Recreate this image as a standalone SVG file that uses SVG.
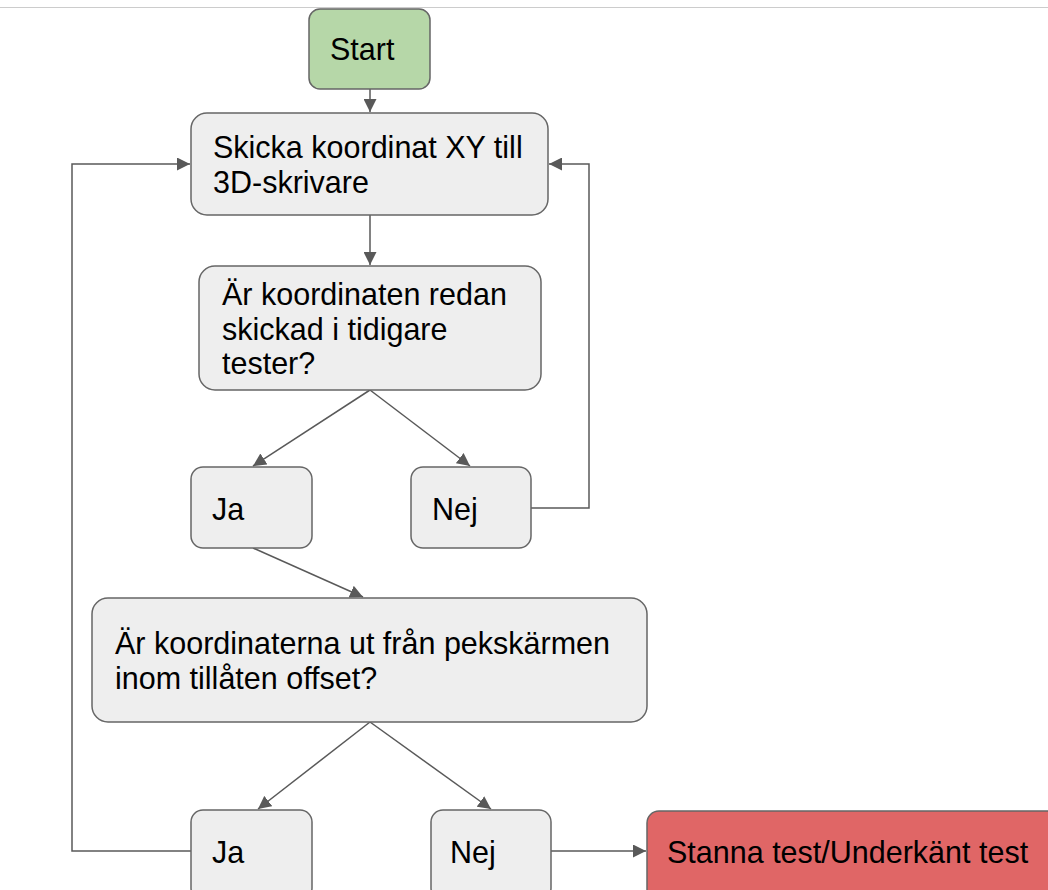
<svg xmlns="http://www.w3.org/2000/svg" width="1048" height="890" viewBox="0 0 1048 890">
<style>
.n{fill:#eeeeee;stroke:#666666;stroke-width:1.5}
.t{font-family:"Liberation Sans",Arial,sans-serif;font-size:30.5px;fill:#000}
.c{fill:none;stroke:#595959;stroke-width:1.5}
</style>
<defs>
<marker id="a" viewBox="0 0 10 10" refX="10" refY="5" markerWidth="13" markerHeight="13" markerUnits="userSpaceOnUse" orient="auto">
<path d="M0,0 L10,5 L0,10 z" fill="#595959"/>
</marker>
</defs>
<rect x="0" y="0" width="1048" height="890" fill="#fff"/>
<line x1="0" y1="7.5" x2="1048" y2="7.5" stroke="#cccccc" stroke-width="1"/>
<g id="connectors">
<path class="c" d="M370,89 V112" marker-end="url(#a)"/>
<path class="c" d="M370,215 V265" marker-end="url(#a)"/>
<path class="c" d="M370,390 L253,466" marker-end="url(#a)"/>
<path class="c" d="M370,390 L470,466" marker-end="url(#a)"/>
<path class="c" d="M531,508 H589 V164 H549" marker-end="url(#a)"/>
<path class="c" d="M253,548 L363,597" marker-end="url(#a)"/>
<path class="c" d="M370,722 L258,809" marker-end="url(#a)"/>
<path class="c" d="M370,722 L491,809" marker-end="url(#a)"/>
<path class="c" d="M191,851 H72 V164 H190" marker-end="url(#a)"/>
<path class="c" d="M551,851 H646" marker-end="url(#a)"/>
</g>
<g id="start">
<rect x="309" y="9" width="121" height="80" rx="11" fill="#b6d7a8" stroke="#666666" stroke-width="1.5"/>
<text class="t" x="330" y="60">Start</text>
</g>
<g id="skicka">
<rect class="n" x="191" y="113" width="357" height="102" rx="16"/>
<text class="t" x="213" y="158">Skicka koordinat XY till</text>
<text class="t" x="213" y="193">3D-skrivare</text>
</g>
<g id="redan">
<rect class="n" x="199" y="266" width="342" height="124" rx="16"/>
<text class="t" x="222" y="305">Är koordinaten redan</text>
<text class="t" x="222" y="340">skickad i tidigare</text>
<text class="t" x="222" y="374">tester?</text>
</g>
<g id="ja1">
<rect class="n" x="191" y="467" width="121" height="81" rx="12"/>
<text class="t" x="212" y="520">Ja</text>
</g>
<g id="nej1">
<rect class="n" x="411" y="467" width="120" height="81" rx="12"/>
<text class="t" x="432" y="520">Nej</text>
</g>
<g id="offset">
<rect class="n" x="92" y="598" width="555" height="124" rx="16"/>
<text class="t" x="115" y="654">Är koordinaterna ut från pekskärmen</text>
<text class="t" x="115" y="689">inom tillåten offset?</text>
</g>
<g id="ja2">
<rect class="n" x="191" y="810" width="121" height="90" rx="12"/>
<text class="t" x="212" y="863">Ja</text>
</g>
<g id="nej2">
<rect class="n" x="431" y="810" width="120" height="90" rx="12"/>
<text class="t" x="450" y="863">Nej</text>
</g>
<g id="stanna">
<rect x="647" y="811" width="420" height="90" rx="12" fill="#e06666" stroke="#666666" stroke-width="1.5"/>
<text class="t" x="667" y="863">Stanna test/Underkänt test</text>
</g>
</svg>
